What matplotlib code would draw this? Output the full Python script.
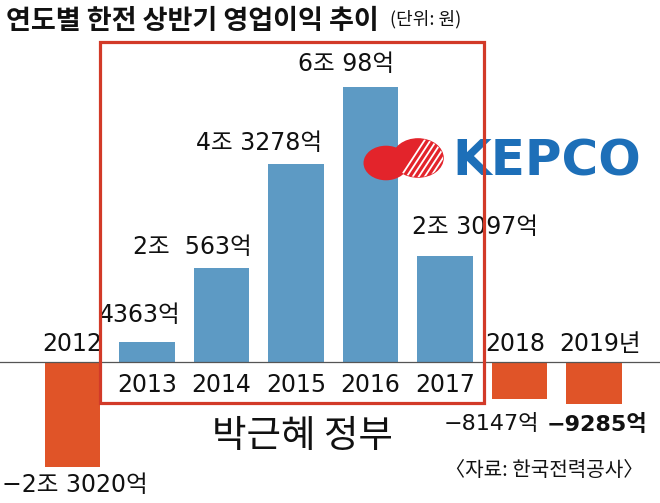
import matplotlib
matplotlib.use("Agg")
import matplotlib.pyplot as plt
from matplotlib.patches import Rectangle, Circle
import numpy as np

plt.rcParams['font.family'] = ['DejaVu Sans Condensed', 'DejaVu Sans', 'Noto Sans CJK KR']

# 상반기 영업이익 (억 원)
years = ['2012', '2013', '2014', '2015', '2016', '2017', '2018', '2019년']
profit = [-23020, 4363, 20563, 43278, 60098, 23097, -8147, -9285]
value_labels = ['−2조 3020억', '4363억', '2조  563억', '4조 3278억', '6조 98억',
                '2조 3097억', '−8147억', '−9285억']

BLUE = '#5d9ac4'
ORANGE = '#e05428'
RED = '#d23a28'

W, H = 660, 503
fig = plt.figure(figsize=(W / 100, H / 100), dpi=100, facecolor='white')
ax = fig.add_axes((0, 0, 1, 1))
ax.set_axis_off()

# 픽셀 -> 데이터 좌표 맞추기
base_px = 362
step = 74.5
x0 = 72.5
per_px = 218.8
ax.set_xlim(-x0 / step, (W - x0) / step)
ax.set_ylim(-(H - base_px) * per_px, base_px * per_px)

x = np.arange(len(years))
colors = [BLUE if v > 0 else ORANGE for v in profit]
ax.bar(x, profit, width=0.75, color=colors, zorder=2)
ax.axhline(0, color='#555555', lw=0.9, zorder=3)

# 라벨 위치 (pixel offset)
label_off = [(2, -18), (-7, 27), (-29, 21), (-37, 21), (-24, 23), (30, 29), (-28, -25), (3, -20)]
for i, v in enumerate(profit):
    dx, dy = label_off[i]
    bold = 'bold' if i == len(profit) - 1 else 'normal'
    fs = 16 if i >= 6 else 17
    ax.annotate(value_labels[i], (x[i], v), xytext=(dx, dy), textcoords='offset pixels',
                ha='center', va='center', fontsize=fs, fontweight=bold, color='#111111',
                zorder=5)

# 연도
year_off = [(0, 18), (0, -23), (0, -23), (0, -23), (0, -23), (0, -23), (-4, 18), (6, 18)]
for i, yr in enumerate(years):
    dx, dy = year_off[i]
    ax.annotate(yr, (x[i], 0), xytext=(dx, dy), textcoords='offset pixels',
                ha='center', va='center', fontsize=17, color='#111111', zorder=5)


def fx(px):
    return px / W


def fy(py):
    return 1 - py / H


# 로고
lobe1 = Circle((fx(386), fy(163)), 0.033, transform=fig.transFigure, color='#e3242b', zorder=3)
lobe2 = Circle((fx(418), fy(158)), 0.038, transform=fig.transFigure, color='#e3242b', zorder=3)
fig.patches.extend([lobe1, lobe2])
for k in range(7):
    off = k * 6
    l = plt.Line2D([fx(392 + off), fx(430 + off)], [fy(190), fy(132)],
                   transform=fig.transFigure, color='white', lw=1.3, zorder=4)
    l.set_clip_path(lobe2)
    fig.lines.append(l)
fig.text(fx(452), fy(161), 'KEPCO', fontsize=36, fontweight='bold', color='#1d6fb8',
         ha='left', va='center', family='DejaVu Sans', zorder=4)

# 박근혜 정부 박스
box = Rectangle((fx(100), fy(403)), fx(484) - fx(100), fy(42) - fy(403),
                transform=fig.transFigure, fill=False, ec=RED, lw=2.3, zorder=6)
fig.patches.append(box)

fig.text(fx(6), fy(21), '연도별 한전 상반기 영업이익 추이', fontsize=19.5, fontweight='black',
         family='Noto Sans CJK KR', ha='left', va='center', color='#111111')
fig.text(fx(390), fy(19), '(단위: 원)', fontsize=13, family='Noto Sans CJK KR',
         ha='left', va='center', color='#111111')
fig.text(fx(302), fy(437), '박근혜 정부', fontsize=27, family='Noto Sans CJK KR',
         ha='center', va='center', color='#111111')
fig.text(fx(643), fy(471), '〈자료: 한국전력공사〉', fontsize=14.5, family='Noto Sans CJK KR',
         ha='right', va='center', color='#111111')

fig.savefig('out.png', dpi=100, facecolor='white')
